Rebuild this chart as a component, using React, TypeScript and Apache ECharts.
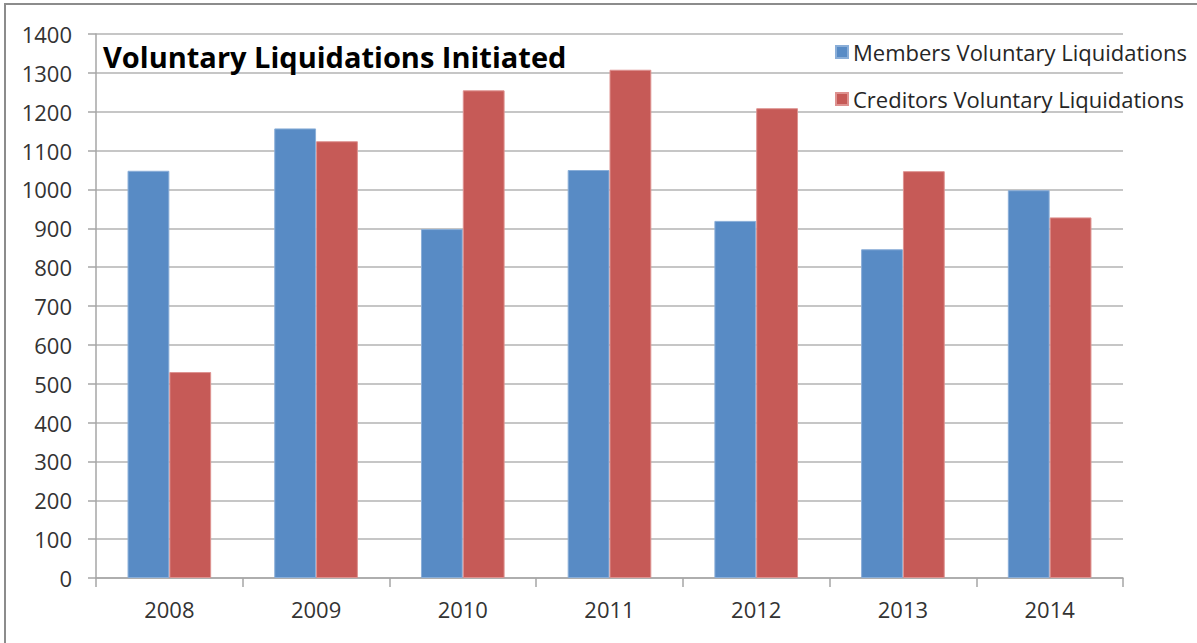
import React, { useEffect, useRef } from "react";
import * as echarts from "echarts";

const years = ["2008", "2009", "2010", "2011", "2012", "2013", "2014"];
const members = [1048, 1157, 898, 1050, 919, 846, 998];
const creditors = [530, 1124, 1255, 1308, 1209, 1047, 928];
const titleText = "Voluntary Liquidations Initiated";
const seriesNames = ["Members Voluntary Liquidations", "Creditors Voluntary Liquidations"];

const FONT = "'Open Sans', Lato, sans-serif";

export default function App() {
  const ref = useRef<HTMLDivElement>(null);
  useEffect(() => {
    document.body.style.margin = "0";
    const chart = echarts.init(ref.current!, null, { renderer: "svg" });
    chart.setOption({
      animation: false,
      backgroundColor: "#ffffff",
      textStyle: { fontFamily: FONT },
      grid: { left: 96, right: 74, top: 34, bottom: 65, containLabel: false },
      legend: {
        orient: "vertical",
        left: 830,
        top: 34,
        itemWidth: 12,
        itemHeight: 12,
        itemGap: 21,
        icon: "rect",
        textStyle: { fontSize: 22, color: "#262626", fontFamily: FONT, lineHeight: 26 },
        data: seriesNames,
      },
      graphic: [
        {
          type: "rect",
          shape: { x: 5, y: 4, width: 1250, height: 700 },
          style: { fill: "none", stroke: "#8c8c8c", lineWidth: 2 },
          silent: true,
        },
        {
          type: "text",
          left: 103,
          top: 42,
          style: {
            text: titleText,
            fontSize: 29,
            fontWeight: "bold",
            fill: "#000000",
            fontFamily: FONT,
          },
          z: 10,
        },
      ],
      xAxis: {
        type: "category",
        data: years,
        boundaryGap: true,
        axisLine: { show: true, lineStyle: { color: "#a6a6a6", width: 1.5 } },
        axisTick: { show: true, length: 9, inside: false, lineStyle: { color: "#a6a6a6", width: 1.5 } },
        axisLabel: { fontSize: 22, color: "#333333", margin: 20, fontFamily: FONT },
        splitLine: { show: false },
      },
      yAxis: {
        type: "value",
        min: 0,
        max: 1400,
        interval: 100,
        axisLine: { show: true, lineStyle: { color: "#a6a6a6", width: 1.5 } },
        axisTick: { show: true, length: 8, lineStyle: { color: "#a6a6a6", width: 1.5 } },
        axisLabel: {
          fontSize: 22,
          color: "#333333",
          margin: 24,
          fontFamily: FONT,
          formatter: (v: number) => String(v),
        },
        splitLine: { show: true, lineStyle: { color: "#b3b3b3", width: 1.5 } },
      },
      series: [
        {
          name: seriesNames[0],
          type: "bar",
          data: members,
          barGap: "0%",
          barCategoryGap: "43%",
          itemStyle: { color: "#588BC5", borderColor: "#8AAED8", borderWidth: 1 },
        },
        {
          name: seriesNames[1],
          type: "bar",
          data: creditors,
          barGap: "0%",
          barCategoryGap: "43%",
          itemStyle: { color: "#C65A57", borderColor: "#DE9290", borderWidth: 1 },
        },
      ],
    });
    return () => chart.dispose();
  }, []);
  return <div ref={ref} style={{ width: 1197, height: 643 }} />;
}
